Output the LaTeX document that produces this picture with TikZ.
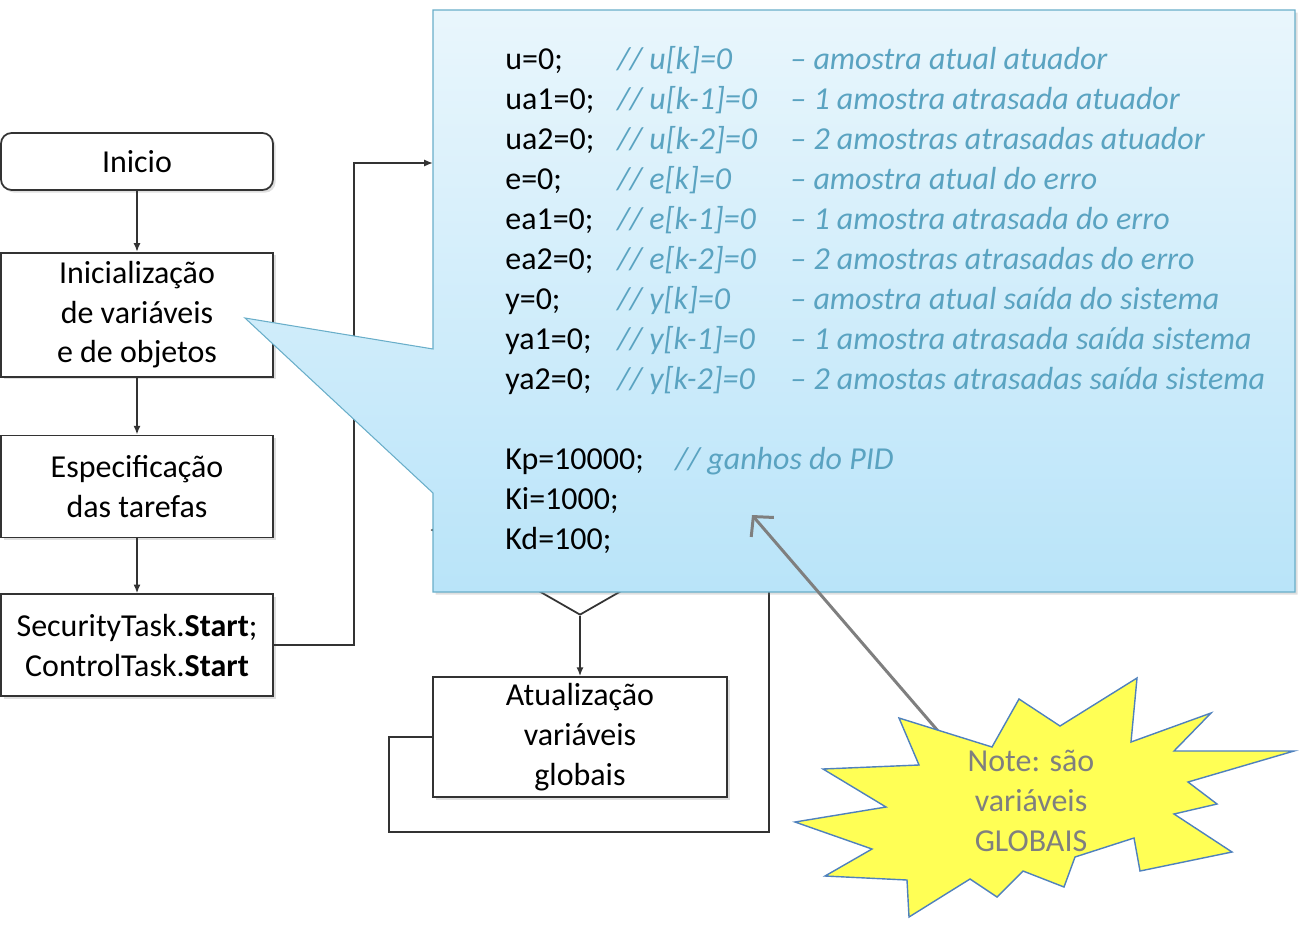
\documentclass[tikz,border=0pt]{standalone}
\usepackage{fontspec}
\setmainfont{Carlito}
\usetikzlibrary{arrows.meta,positioning,shapes.geometric,shadows}
\definecolor{edge}{HTML}{333333}
\definecolor{calltop}{HTML}{E9F6FC}
\definecolor{callbot}{HTML}{B9E4F9}
\definecolor{callline}{HTML}{69AEC9}
\definecolor{commtext}{HTML}{5AA3C1}
\definecolor{starfill}{HTML}{FFFF55}
\definecolor{starline}{HTML}{4F81BD}
\definecolor{notegray}{HTML}{7F7F7F}
\newcommand{\flowfont}{\fontsize{18.2}{22.7}\selectfont}
\tikzset{
  box/.style={draw=edge, line width=1pt, fill=white, align=center, font=\flowfont, inner sep=0pt,
    drop shadow={shadow xshift=1.5pt, shadow yshift=-1.5pt, opacity=0.25}},
  flow/.style={draw=edge, line width=0.9pt, -{Latex[length=5pt,width=4pt]}},
  link/.style={draw=edge, line width=0.9pt},
  code/.style={anchor=base west, font=\flowfont, text=black, inner sep=0pt},
  comm/.style={anchor=base west, font=\flowfont\itshape, text=commtext, inner sep=0pt},
  pointer/.style={draw=notegray, line width=1.7pt, -{Straight Barb[length=8pt,width=17pt]}},
}

\begin{document}
\begin{tikzpicture}[x=0.02cm, y=-0.02cm]
\useasboundingbox (0,0) rectangle (1314,930);
% main flow
\node[box, rounded corners=6pt, minimum width=5.44cm, minimum height=1.14cm] (inicio) at (137,161.5) {Inicio};
\node[box, minimum width=5.44cm, minimum height=2.48cm, below=1.22cm of inicio] (init) {Inicialização\\de variáveis\\e de objetos};
\node[box, minimum width=5.44cm, minimum height=2.04cm, below=1.14cm of init] (spec) {Especificação\\das tarefas};
\node[box, minimum width=5.44cm, minimum height=2.04cm, below=1.10cm of spec] (start) {SecurityTask.\textbf{Start};\\ControlTask.\textbf{Start}};
\draw[flow] (inicio) -- (init);
\draw[flow] (init) -- (spec);
\draw[flow] (spec) -- (start);

% task loop
\coordinate (taskin) at (433,163);
\coordinate (corner) at (769,832);
\coordinate (back) at (769,420);
\node[draw=edge, line width=1pt, diamond, minimum width=5.92cm, minimum height=3.4cm, inner sep=0pt] (test) at (580,530) {};
\node[box, minimum width=5.88cm, minimum height=2.4cm] (upd) at (580,737) {Atualização\\variáveis\\globais};
\draw[flow] (start.east) -- ++(80,0) |- (taskin);
\draw[flow] (test.south) -- (upd.north);
\draw[link] (upd.west) -- ++(-43,0) |- (corner) -- (back);

% callout
\path[draw=callline, line width=0.6pt, top color=calltop, bottom color=callbot,
  drop shadow={shadow xshift=1.5pt, shadow yshift=-1.5pt, opacity=0.25}]
  (433,10) -- (1295,10) -- (1295,592) -- (433,592) -- (433,493) -- (245,318) -- (433,349) -- cycle;
\foreach \v/\c/\d [count=\i from 0] in {u=0;/u[k]=0/amostra atual atuador,
    ua1=0;/u[k-1]=0/1 amostra atrasada atuador,
    ua2=0;/u[k-2]=0/2 amostras atrasadas atuador,
    e=0;/e[k]=0/amostra atual do erro,
    ea1=0;/e[k-1]=0/1 amostra atrasada do erro,
    ea2=0;/e[k-2]=0/2 amostras atrasadas do erro,
    y=0;/y[k]=0/amostra atual saída do sistema,
    ya1=0;/y[k-1]=0/1 amostra atrasada saída sistema,
    ya2=0;/y[k-2]=0/2 amostas atrasadas saída sistema} {
  \node[code] (v\i) at (505,{69+40*\i}) {\v};
  \node[comm] (c\i) at (617,{69+40*\i}) {// \c};
  \node[comm] (d\i) at (790,{69+40*\i}) {– \d};
}
\node[code] (kp) at (505,469) {Kp=10000;};
\node[comm] (kpc) at (675,469) {// ganhos do PID};
\node[code] (ki) at (505,509) {Ki=1000;};
\node[code] (kd) at (505,549) {Kd=100;};

% note
\coordinate (src) at (963,760);
\coordinate (tip) at (752,515);
\draw[pointer] (src) -- (tip);
\path[draw=starline, line width=0.8pt, fill=starfill]
  (899,718) -- (992,747) -- (1019,699) -- (1060,726) -- (1137,678) -- (1131,742) -- (1211,713)
  -- (1174,751) -- (1294,751) -- (1188,782) -- (1217,804) -- (1174,814) -- (1232,852) -- (1140,871)
  -- (1134,838) -- (1075,857) -- (1064,887) -- (1023,871) -- (997,897) -- (970,879) -- (909,917)
  -- (907,880) -- (825,876) -- (872,849) -- (795,822) -- (886,807) -- (823,769) -- (919,765) -- cycle;
\node[font=\flowfont, text=notegray, align=center] (note) at (1031,801) {Note: são\\variáveis\\GLOBAIS};
\end{tikzpicture}
\end{document}
